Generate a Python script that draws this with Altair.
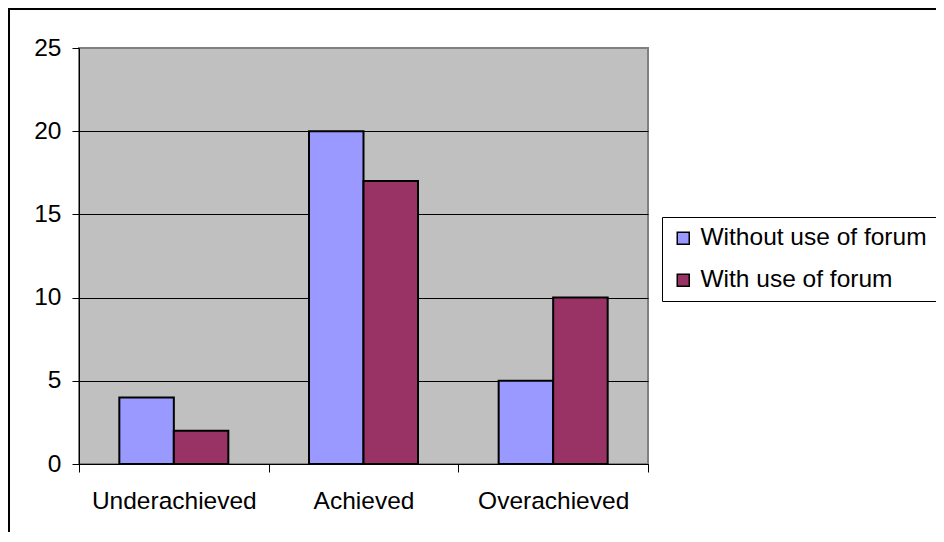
import altair as alt
import pandas as pd

categories = ["Underachieved", "Achieved", "Overachieved"]
series_names = ["Without use of forum", "With use of forum"]
without_forum = [4, 20, 5]
with_forum = [2, 17, 10]
y_ticks = [0, 5, 10, 15, 20, 25]
colors = ["#9999FF", "#993366"]

rows = []
for c, a, b in zip(categories, without_forum, with_forum):
    rows.append({"category": c, "series": series_names[0], "value": a})
    rows.append({"category": c, "series": series_names[1], "value": b})
df = pd.DataFrame(rows)

FONT = "Liberation Sans"
FS = 24.5

bars = alt.Chart(df).mark_bar(stroke="black", strokeWidth=2).encode(
    x=alt.X(
        "category:N",
        sort=categories,
        scale=alt.Scale(paddingInner=0, paddingOuter=0),
        axis=alt.Axis(
            title=None, labelAngle=0, tickBand="extent", grid=False,
            domainColor="black", domainWidth=1, tickColor="black", tickSize=8,
            labelPadding=17, labelFontSize=FS, labelFont=FONT, labelColor="black",
        ),
    ),
    xOffset=alt.XOffset(
        "series:N", sort=series_names,
        scale=alt.Scale(paddingOuter=0.74, paddingInner=0),
    ),
    y=alt.Y(
        "value:Q",
        scale=alt.Scale(domain=[0, 25], nice=False),
        axis=alt.Axis(
            title=None, values=y_ticks, grid=True,
            gridColor={"condition": {"test": "datum.value === 25", "value": "#808080"}, "value": "black"},
            gridWidth=1, domainColor="black", domainWidth=1, tickColor="black", tickSize=7,
            labelPadding=11, labelFontSize=FS, labelFont=FONT, labelColor="black",
        ),
    ),
    color=alt.Color(
        "series:N",
        sort=series_names,
        scale=alt.Scale(domain=series_names, range=colors),
        legend=alt.Legend(
            title=None, orient="none", legendX=583, legendY=169,
            strokeColor="black", fillColor="white", padding=9,
            symbolType="square", symbolSize=144, symbolStrokeColor="black",
            symbolStrokeWidth=1.5, labelFontSize=FS, labelFont=FONT,
            labelColor="black", labelOffset=5, rowPadding=17, labelLimit=500,
        ),
    ),
)

border_data = alt.Data(values=[{"k": 1}])
border_left = alt.Chart(border_data).mark_rule(color="black", strokeWidth=2).encode(
    x=alt.value(-70), y=alt.value(-40), y2=alt.value(700)
)
border_top = alt.Chart(border_data).mark_rule(color="black", strokeWidth=2).encode(
    x=alt.value(-71), x2=alt.value(1000), y=alt.value(-39)
)

chart = alt.layer(border_left, border_top, bars).properties(
    width=569, height=416,
    padding={"left": 71, "top": 40, "right": 288, "bottom": 68},
    autosize="none",
    background="white",
).configure_view(fill="#C0C0C0", stroke="#808080", strokeWidth=2)

chart.save("out.html", embed_options={"renderer": "svg", "actions": False})
